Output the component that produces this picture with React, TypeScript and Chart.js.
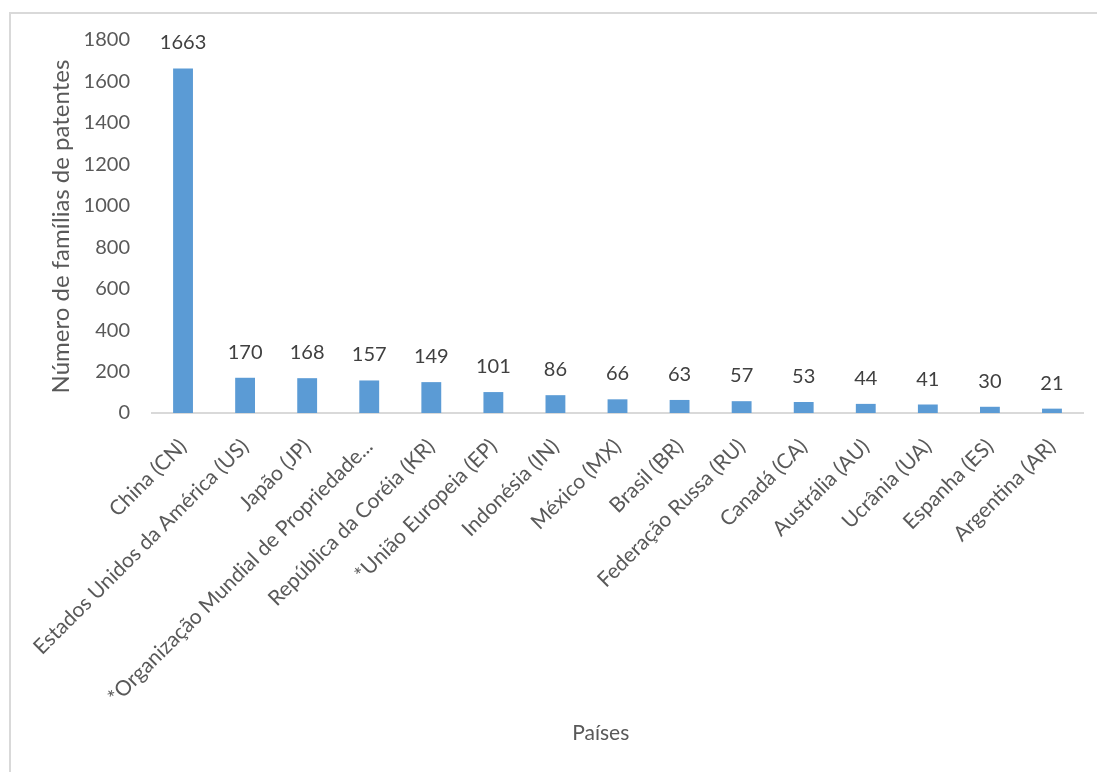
import React, { useEffect, useRef } from "react";
import { Chart, registerables } from "chart.js";

Chart.register(...registerables);

const categories = [
  "China (CN)",
  "Estados Unidos da América (US)",
  "Japão (JP)",
  "*Organização Mundial de Propriedade...",
  "República da Coréia (KR)",
  "*União Europeia (EP)",
  "Indonésia (IN)",
  "México (MX)",
  "Brasil (BR)",
  "Federação Russa (RU)",
  "Canadá (CA)",
  "Austrália (AU)",
  "Ucrânia (UA)",
  "Espanha (ES)",
  "Argentina (AR)",
];
const values = [1663, 170, 168, 157, 149, 101, 86, 66, 63, 57, 53, 44, 41, 30, 21];
const yMin = 0;
const yMax = 1800;
const yStep = 200;
const yTitle = "Número de famílias de patentes";
const xTitle = "Países";

const FONT = "Lato, 'Open Sans', 'DejaVu Sans', sans-serif";
const BAR = "#5b9bd5";
const TEXT = "#595959";

const valueLabels = {
  id: "valueLabels",
  afterDatasetsDraw(chart: any) {
    const ctx = chart.ctx;
    const meta = chart.getDatasetMeta(0);
    ctx.save();
    ctx.font = `20px ${FONT}`;
    ctx.fillStyle = "#404040";
    ctx.textAlign = "center";
    ctx.textBaseline = "alphabetic";
    meta.data.forEach((bar: any, i: number) => {
      ctx.fillText(String(values[i]), bar.x, bar.y - 19);
    });
    ctx.restore();
  },
};

const xTitlePlugin = {
  id: "xTitlePlugin",
  afterDraw(chart: any) {
    const ctx = chart.ctx;
    const area = chart.chartArea;
    ctx.save();
    ctx.font = `21px ${FONT}`;
    ctx.fillStyle = TEXT;
    ctx.textAlign = "center";
    ctx.textBaseline = "middle";
    ctx.fillText(xTitle, area.left + area.width * 0.482, chart.height - 39);
    ctx.restore();
  },
};

export default function App() {
  const ref = useRef<HTMLCanvasElement | null>(null);

  useEffect(() => {
    if (!ref.current) return;
    const chart = new Chart(ref.current, {
      type: "bar",
      data: {
        labels: categories,
        datasets: [
          {
            data: values,
            backgroundColor: BAR,
            barPercentage: 0.8,
            categoryPercentage: 0.4,
          },
        ],
      },
      plugins: [valueLabels, xTitlePlugin],
      options: {
        animation: false,
        responsive: true,
        maintainAspectRatio: false,
        layout: { padding: { left: 0, top: 40, right: 14, bottom: 0 } },
        plugins: {
          legend: { display: false },
          tooltip: { enabled: false },
        },
        scales: {
          x: {
            grid: { display: false, drawTicks: false },
            border: { display: true, color: "#d9d9d9", width: 2 },
            ticks: {
              autoSkip: false,
              minRotation: 45,
              maxRotation: 45,
              color: TEXT,
              padding: 21,
              font: { family: FONT, size: 21 },
            },
            title: { display: false },
            afterFit: (s: any) => {
              s.height = 359;
            },
          },
          y: {
            min: yMin,
            max: yMax,
            grid: { display: false, drawTicks: false },
            border: { display: false },
            ticks: {
              stepSize: yStep,
              color: TEXT,
              padding: 22,
              font: { family: FONT, size: 20 },
              callback: (v: any) => String(v),
            },
            title: {
              display: true,
              text: yTitle,
              color: TEXT,
              font: { family: FONT, size: 24 },
              padding: { top: 47, bottom: 0 },
            },
            afterFit: (s: any) => {
              s.width = 152;
            },
          },
        },
      },
    });
    return () => chart.destroy();
  }, []);

  return (
    <div
      style={{
        position: "fixed",
        left: 0,
        top: 0,
        width: 1097,
        height: 772,
        overflow: "hidden",
        background: "#fff",
      }}
    >
      <div
        style={{
          position: "absolute",
          left: 9,
          top: 12,
          width: 1200,
          height: 900,
          border: "2px solid #d9d9d9",
          boxSizing: "border-box",
        }}
      />
      <div style={{ position: "absolute", left: 0, top: 0, width: 1097, height: 772 }}>
        <canvas ref={ref} />
      </div>
    </div>
  );
}
